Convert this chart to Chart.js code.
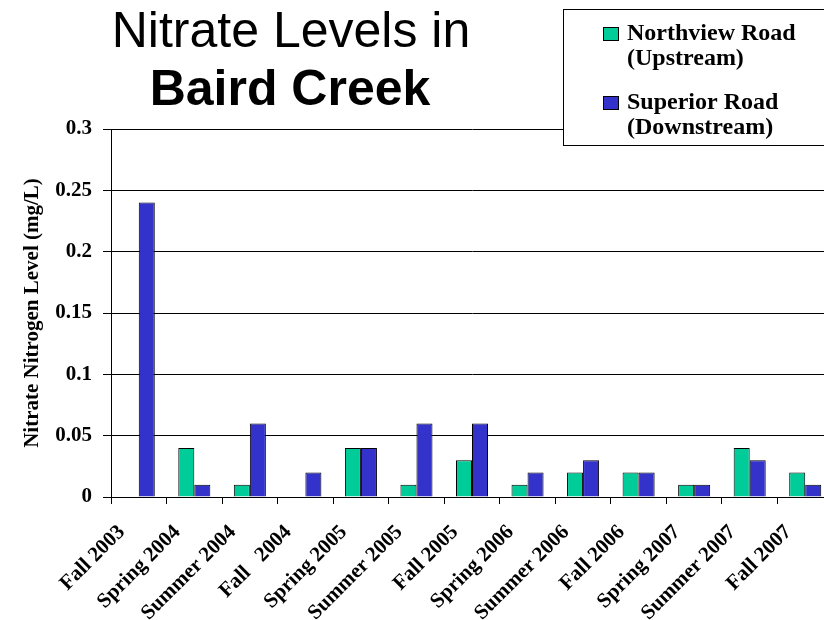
<!DOCTYPE html>
<html>
<head>
<meta charset="utf-8">
<title>Nitrate Levels in Baird Creek</title>
<script src="https://cdn.jsdelivr.net/npm/chart.js@4"></script>
<style>
  html, body { margin: 0; padding: 0; overflow: hidden; background: #fff; }
</style>
</head>
<body>
<canvas id="myChart" width="840" height="620"></canvas>
<script>
// Chart data
const seasons = [
  'Fall 2003', 'Spring 2004', 'Summer 2004', 'Fall   2004', 'Spring 2005',
  'Summer 2005', 'Fall 2005', 'Spring 2006', 'Summer 2006', 'Fall 2006',
  'Spring 2007', 'Summer 2007', 'Fall 2007'
];
const northview = [0, 0.04, 0.01, 0, 0.04, 0.01, 0.03, 0.01, 0.02, 0.02, 0.01, 0.04, 0.02];
const superior = [0.24, 0.01, 0.06, 0.02, 0.04, 0.06, 0.06, 0.02, 0.03, 0.02, 0.01, 0.03, 0.01];
const titleLines = ['Nitrate Levels in', 'Baird Creek'];
const yTitle = 'Nitrate Nitrogen Level (mg/L)';

const serif = "'Times New Roman', 'Liberation Serif', serif";
const sans = "Arial, 'Liberation Sans', sans-serif";

// Title + boxed legend drawn on top of the plot
const titleAndKey = {
  id: 'titleAndKey',
  afterDraw(chart) {
    const ctx = chart.ctx;
    ctx.save();
    ctx.fillStyle = '#000';
    ctx.textAlign = 'center';
    ctx.textBaseline = 'alphabetic';
    ctx.font = '50px ' + sans;
    ctx.fillText(titleLines[0], 291, 47);
    ctx.font = 'bold 50px ' + sans;
    ctx.fillText(titleLines[1], 290, 105);

    // legend box
    ctx.fillStyle = '#fff';
    ctx.fillRect(563.5, 9.5, 280, 136);
    ctx.strokeStyle = '#000';
    ctx.lineWidth = 1;
    ctx.strokeRect(563.5, 9.5, 280, 136);

    ctx.textAlign = 'left';
    ctx.font = 'bold 24px ' + serif;
    chart.data.datasets.forEach(function (ds, i) {
      const top = 27 + i * 69;
      ctx.fillStyle = ds.backgroundColor;
      ctx.fillRect(603.5, top + 0.5, 15, 13);
      ctx.strokeRect(603.5, top + 0.5, 15, 13);
      ctx.fillStyle = '#000';
      ds.label.split('\n').forEach(function (line, j) {
        ctx.fillText(line, 627, top + 13 + j * 25);
      });
    });
    ctx.restore();
  }
};

const data = {
  labels: seasons,
  datasets: [{
    label: 'Northview Road\n(Upstream)',
    data: northview,
    backgroundColor: '#00CC99',
    borderColor: '#000',
    borderWidth: 1
  },
  {
    label: 'Superior Road\n(Downstream)',
    data: superior,
    backgroundColor: '#3333CC',
    borderColor: '#000',
    borderWidth: 1
  }]
};

const config = {
  type: 'bar',
  data: data,
  plugins: [titleAndKey],
  options: {
    responsive: false,
    animation: false,
    layout: { padding: { top: 129, right: 7, left: 0, bottom: 0 } },
    datasets: {
      bar: { categoryPercentage: 0.577, barPercentage: 1 }
    },
    plugins: {
      legend: { display: false },
      title: { display: false },
      tooltip: { enabled: false }
    },
    scales: {
      x: {
        grid: { drawOnChartArea: false, drawTicks: true, tickLength: 7, color: '#000' },
        border: { color: '#000', width: 1 },
        ticks: {
          autoSkip: false,
          minRotation: 45,
          maxRotation: 45,
          labelOffset: -17,
          padding: 16,
          color: '#000',
          font: { family: serif, size: 21, weight: 'bold' }
        },
        afterFit(scale) { scale.height = 123; }
      },
      y: {
        min: 0,
        max: 0.3,
        grid: { color: '#000', tickLength: 8 },
        border: { color: '#000', width: 1 },
        ticks: {
          stepSize: 0.05,
          padding: 11,
          color: '#000',
          font: { family: serif, size: 21, weight: 'bold' },
          callback: function (value) { return String(Math.round(value * 100) / 100); }
        },
        title: {
          display: true,
          text: yTitle,
          color: '#000',
          padding: { top: 20, bottom: 0 },
          font: { family: serif, size: 21, weight: 'bold' }
        },
        afterFit(scale) { scale.width = 111; }
      }
    }
  }
};

const myChart = new Chart(document.getElementById('myChart'), config);
</script>
</body>
</html>
